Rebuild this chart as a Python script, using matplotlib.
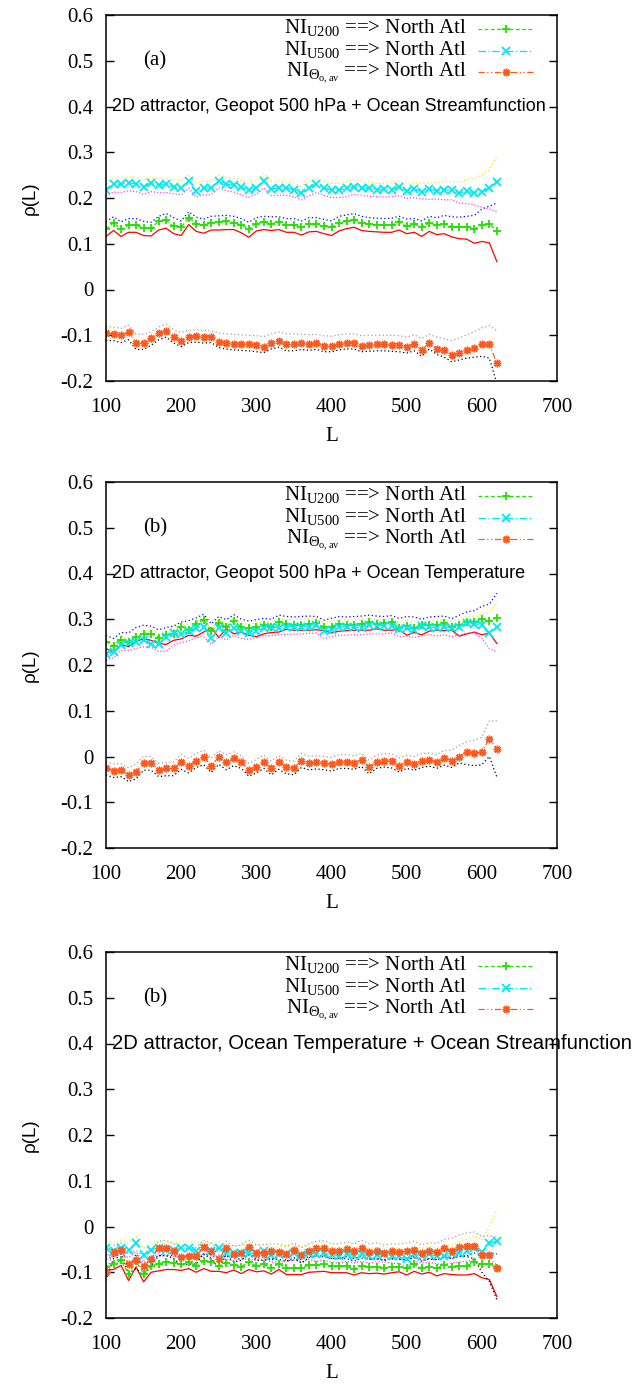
import numpy as np
import matplotlib
matplotlib.use('Agg')
import matplotlib.pyplot as plt
from matplotlib.ticker import FuncFormatter

plt.rcParams['axes.unicode_minus'] = False
plt.rcParams['mathtext.fontset'] = 'custom'
plt.rcParams['mathtext.rm'] = 'Liberation Serif'
plt.rcParams['mathtext.it'] = 'Liberation Serif:italic'

SERIF = ['Liberation Serif', 'DejaVu Serif']
SANS = ['Liberation Sans', 'DejaVu Sans']

L = np.arange(100, 621, 10)

TITLES = ['2D attractor, Geopot 500 hPa + Ocean Streamfunction',
          '2D attractor, Geopot 500 hPa + Ocean Temperature',
          '2D attractor, Ocean Temperature + Ocean Streamfunction']
PANEL_TAGS = ['(a)', '(b)', '(b)']
LEGEND_LABELS = [r'NI$_{\rm U200}$ ==> North Atl',
                 r'NI$_{\rm U500}$ ==> North Atl',
                 r'NI$_{\Theta_{\rm o,av}}$ ==> North Atl']

# ---------------- panel (a) ----------------
a_u200 = [0.132, 0.146, 0.132, 0.141, 0.141, 0.134, 0.134, 0.149, 0.151, 0.138, 0.136, 0.157, 0.144, 0.140,
          0.146, 0.147, 0.149, 0.146, 0.141, 0.132, 0.144, 0.147, 0.144, 0.147, 0.141, 0.141, 0.136, 0.143,
          0.143, 0.138, 0.136, 0.146, 0.149, 0.153, 0.146, 0.143, 0.141, 0.141, 0.141, 0.147, 0.138, 0.143,
          0.136, 0.146, 0.140, 0.144, 0.137, 0.136, 0.137, 0.133, 0.141, 0.143, 0.127]
a_u200_lo = [0.116, 0.129, 0.116, 0.125, 0.125, 0.118, 0.117, 0.130, 0.134, 0.122, 0.118, 0.142, 0.127, 0.123,
             0.130, 0.130, 0.131, 0.131, 0.124, 0.114, 0.128, 0.131, 0.129, 0.131, 0.125, 0.125, 0.119, 0.126,
             0.127, 0.122, 0.118, 0.128, 0.133, 0.136, 0.129, 0.127, 0.126, 0.125, 0.125, 0.130, 0.122, 0.125,
             0.116, 0.127, 0.120, 0.122, 0.115, 0.111, 0.110, 0.101, 0.105, 0.102, 0.061]
a_u200_hi = [0.148, 0.159, 0.148, 0.155, 0.155, 0.149, 0.147, 0.160, 0.166, 0.157, 0.150, 0.170, 0.158, 0.154,
             0.160, 0.161, 0.162, 0.160, 0.155, 0.147, 0.157, 0.160, 0.159, 0.159, 0.155, 0.155, 0.150, 0.157,
             0.157, 0.153, 0.150, 0.160, 0.163, 0.166, 0.160, 0.157, 0.156, 0.155, 0.156, 0.160, 0.154, 0.155,
             0.150, 0.160, 0.157, 0.162, 0.159, 0.158, 0.160, 0.162, 0.176, 0.182, 0.189]
a_u500 = [0.217, 0.231, 0.230, 0.233, 0.231, 0.224, 0.233, 0.228, 0.230, 0.224, 0.222, 0.238, 0.215, 0.222,
          0.221, 0.238, 0.230, 0.228, 0.224, 0.217, 0.222, 0.238, 0.220, 0.222, 0.222, 0.218, 0.211, 0.222,
          0.230, 0.222, 0.217, 0.217, 0.221, 0.225, 0.222, 0.221, 0.217, 0.220, 0.218, 0.224, 0.215, 0.220,
          0.214, 0.220, 0.215, 0.218, 0.217, 0.211, 0.215, 0.211, 0.214, 0.221, 0.236]
a_u500_hi = [0.230, 0.244, 0.243, 0.246, 0.245, 0.240, 0.244, 0.242, 0.242, 0.240, 0.238, 0.250, 0.232, 0.236,
             0.236, 0.250, 0.245, 0.243, 0.238, 0.232, 0.238, 0.254, 0.237, 0.236, 0.235, 0.232, 0.226, 0.236,
             0.242, 0.236, 0.232, 0.232, 0.236, 0.240, 0.236, 0.235, 0.232, 0.232, 0.234, 0.236, 0.230, 0.234,
             0.232, 0.233, 0.234, 0.236, 0.236, 0.235, 0.240, 0.243, 0.250, 0.262, 0.292]
a_u500_lo = [0.205, 0.213, 0.212, 0.216, 0.214, 0.208, 0.214, 0.212, 0.212, 0.209, 0.207, 0.222, 0.202, 0.207,
             0.207, 0.222, 0.216, 0.213, 0.207, 0.202, 0.208, 0.222, 0.205, 0.206, 0.206, 0.202, 0.196, 0.205,
             0.212, 0.206, 0.201, 0.201, 0.203, 0.208, 0.206, 0.204, 0.203, 0.202, 0.203, 0.205, 0.199, 0.201,
             0.198, 0.197, 0.198, 0.196, 0.196, 0.189, 0.188, 0.185, 0.180, 0.176, 0.170]
a_theta = [-0.096, -0.097, -0.100, -0.093, -0.116, -0.116, -0.107, -0.096, -0.090, -0.104, -0.112, -0.103, -0.101,
           -0.104, -0.103, -0.114, -0.116, -0.119, -0.119, -0.119, -0.122, -0.125, -0.116, -0.112, -0.120, -0.120,
           -0.117, -0.120, -0.117, -0.123, -0.123, -0.119, -0.116, -0.117, -0.123, -0.122, -0.120, -0.120, -0.122,
           -0.122, -0.126, -0.120, -0.132, -0.117, -0.129, -0.133, -0.143, -0.139, -0.132, -0.128, -0.120, -0.120,
           -0.161]
a_theta_hi = [-0.081, -0.082, -0.085, -0.078, -0.098, -0.098, -0.093, -0.082, -0.076, -0.088, -0.094, -0.089,
              -0.088, -0.090, -0.090, -0.095, -0.097, -0.098, -0.099, -0.100, -0.101, -0.103, -0.097, -0.093,
              -0.097, -0.097, -0.098, -0.099, -0.098, -0.101, -0.102, -0.099, -0.097, -0.097, -0.101, -0.100,
              -0.100, -0.100, -0.100, -0.101, -0.104, -0.099, -0.107, -0.098, -0.104, -0.108, -0.112, -0.106,
              -0.099, -0.092, -0.084, -0.079, -0.090]
a_theta_lo = [-0.111, -0.112, -0.116, -0.110, -0.131, -0.131, -0.122, -0.110, -0.104, -0.117, -0.125, -0.116,
              -0.115, -0.117, -0.116, -0.127, -0.130, -0.132, -0.133, -0.134, -0.136, -0.138, -0.130, -0.126,
              -0.134, -0.134, -0.131, -0.133, -0.131, -0.136, -0.136, -0.132, -0.130, -0.130, -0.136, -0.135,
              -0.134, -0.134, -0.135, -0.136, -0.139, -0.134, -0.146, -0.130, -0.142, -0.148, -0.158, -0.154,
              -0.150, -0.148, -0.146, -0.150, -0.205]

# ---------------- panel (b) ----------------
b_u200 = [0.251, 0.242, 0.254, 0.251, 0.262, 0.268, 0.268, 0.260, 0.265, 0.268, 0.283, 0.277, 0.290, 0.299,
          0.274, 0.291, 0.284, 0.296, 0.283, 0.280, 0.284, 0.288, 0.284, 0.294, 0.290, 0.287, 0.288, 0.290,
          0.291, 0.283, 0.284, 0.290, 0.288, 0.288, 0.290, 0.293, 0.290, 0.291, 0.293, 0.280, 0.286, 0.281,
          0.288, 0.288, 0.288, 0.291, 0.283, 0.288, 0.294, 0.293, 0.301, 0.297, 0.303]
b_u200_lo = [0.236, 0.228, 0.244, 0.240, 0.252, 0.257, 0.254, 0.247, 0.245, 0.254, 0.257, 0.265, 0.263, 0.272,
             0.282, 0.260, 0.280, 0.268, 0.272, 0.265, 0.262, 0.268, 0.271, 0.272, 0.278, 0.276, 0.276, 0.276,
             0.277, 0.275, 0.270, 0.274, 0.275, 0.276, 0.276, 0.276, 0.279, 0.276, 0.276, 0.278, 0.265, 0.271,
             0.266, 0.274, 0.276, 0.275, 0.276, 0.263, 0.268, 0.272, 0.266, 0.270, 0.247]
b_u200_hi = [0.265, 0.258, 0.271, 0.270, 0.282, 0.287, 0.285, 0.277, 0.282, 0.285, 0.294, 0.297, 0.303, 0.311,
             0.290, 0.306, 0.299, 0.310, 0.300, 0.296, 0.299, 0.302, 0.300, 0.309, 0.306, 0.305, 0.306, 0.307,
             0.306, 0.298, 0.302, 0.306, 0.305, 0.306, 0.307, 0.309, 0.307, 0.306, 0.308, 0.302, 0.306, 0.305,
             0.300, 0.305, 0.306, 0.307, 0.301, 0.309, 0.316, 0.319, 0.328, 0.333, 0.357]
b_u500 = [0.225, 0.229, 0.244, 0.248, 0.251, 0.254, 0.245, 0.245, 0.262, 0.270, 0.267, 0.274, 0.281, 0.284,
          0.258, 0.280, 0.270, 0.281, 0.274, 0.271, 0.274, 0.281, 0.283, 0.281, 0.284, 0.284, 0.283, 0.284,
          0.288, 0.274, 0.277, 0.283, 0.283, 0.283, 0.281, 0.287, 0.286, 0.286, 0.286, 0.278, 0.281, 0.277,
          0.286, 0.284, 0.280, 0.283, 0.281, 0.284, 0.291, 0.290, 0.288, 0.271, 0.283]
b_u500_hi = [0.247, 0.250, 0.258, 0.260, 0.272, 0.275, 0.278, 0.270, 0.275, 0.278, 0.286, 0.290, 0.295, 0.304,
             0.280, 0.300, 0.290, 0.303, 0.292, 0.289, 0.292, 0.294, 0.294, 0.302, 0.300, 0.299, 0.300, 0.301,
             0.300, 0.292, 0.296, 0.300, 0.298, 0.299, 0.300, 0.301, 0.300, 0.299, 0.301, 0.294, 0.298, 0.295,
             0.293, 0.298, 0.298, 0.299, 0.294, 0.300, 0.306, 0.305, 0.312, 0.315, 0.338]
b_u500_lo = [0.210, 0.216, 0.232, 0.232, 0.236, 0.240, 0.239, 0.230, 0.230, 0.244, 0.249, 0.253, 0.260, 0.262,
             0.245, 0.263, 0.255, 0.265, 0.258, 0.256, 0.260, 0.264, 0.264, 0.266, 0.267, 0.267, 0.268, 0.269,
             0.270, 0.258, 0.262, 0.265, 0.265, 0.266, 0.266, 0.268, 0.268, 0.268, 0.270, 0.262, 0.263, 0.260,
             0.264, 0.266, 0.264, 0.266, 0.262, 0.266, 0.270, 0.270, 0.258, 0.236, 0.228]
b_theta = [-0.025, -0.032, -0.029, -0.041, -0.033, -0.014, -0.014, -0.029, -0.026, -0.026, -0.012, -0.020, -0.010,
           -0.001, -0.020, -0.001, -0.013, -0.004, -0.012, -0.030, -0.022, -0.012, -0.026, -0.013, -0.023, -0.025,
           -0.009, -0.014, -0.013, -0.014, -0.017, -0.012, -0.012, -0.014, -0.007, -0.023, -0.012, -0.009, -0.010,
           -0.020, -0.013, -0.016, -0.010, -0.007, -0.012, -0.004, -0.009, 0.000, 0.010, 0.007, 0.010, 0.039,
           0.017]
b_theta_hi = [-0.012, -0.016, -0.016, -0.025, -0.016, 0.000, 0.000, -0.015, -0.013, -0.012, 0.005, -0.004, 0.006,
              0.014, -0.004, 0.013, 0.004, 0.010, 0.001, -0.015, -0.007, 0.003, -0.010, 0.002, -0.008, -0.010,
              0.007, 0.001, 0.001, 0.000, -0.002, 0.004, 0.004, 0.001, 0.007, -0.008, 0.003, 0.006, 0.006, -0.003,
              0.002, 0.000, 0.006, 0.008, 0.004, 0.013, 0.014, 0.024, 0.032, 0.036, 0.042, 0.078, 0.078]
b_theta_lo = [-0.040, -0.046, -0.044, -0.055, -0.049, -0.030, -0.030, -0.044, -0.042, -0.042, -0.028, -0.036,
              -0.024, -0.018, -0.035, -0.017, -0.029, -0.020, -0.026, -0.043, -0.036, -0.026, -0.040, -0.028,
              -0.038, -0.040, -0.024, -0.029, -0.027, -0.029, -0.032, -0.026, -0.026, -0.028, -0.022, -0.038,
              -0.026, -0.023, -0.025, -0.034, -0.026, -0.030, -0.024, -0.021, -0.026, -0.019, -0.024, -0.014,
              -0.018, -0.020, -0.018, 0.000, -0.045]

# ---------------- panel (c) ----------------
c_u200 = [-0.088, -0.083, -0.074, -0.104, -0.076, -0.103, -0.086, -0.081, -0.078, -0.080, -0.083, -0.078, -0.087,
          -0.076, -0.077, -0.086, -0.080, -0.084, -0.088, -0.077, -0.087, -0.083, -0.091, -0.081, -0.091, -0.091,
          -0.091, -0.084, -0.084, -0.083, -0.087, -0.087, -0.087, -0.093, -0.086, -0.088, -0.088, -0.091, -0.088,
          -0.088, -0.091, -0.083, -0.091, -0.088, -0.091, -0.084, -0.088, -0.086, -0.086, -0.077, -0.083, -0.081,
          -0.091]
c_u200_lo = [-0.096, -0.094, -0.085, -0.118, -0.088, -0.121, -0.100, -0.097, -0.094, -0.094, -0.096, -0.092,
             -0.100, -0.092, -0.098, -0.098, -0.101, -0.095, -0.103, -0.094, -0.099, -0.097, -0.104, -0.094,
             -0.105, -0.105, -0.105, -0.100, -0.099, -0.098, -0.101, -0.101, -0.101, -0.106, -0.101, -0.103,
             -0.102, -0.104, -0.101, -0.099, -0.106, -0.098, -0.104, -0.100, -0.108, -0.103, -0.105, -0.106,
             -0.106, -0.103, -0.112, -0.116, -0.153]
c_u200_hi = [-0.072, -0.066, -0.060, -0.090, -0.060, -0.088, -0.070, -0.064, -0.062, -0.064, -0.066, -0.062,
             -0.070, -0.060, -0.062, -0.070, -0.064, -0.068, -0.072, -0.062, -0.070, -0.066, -0.074, -0.064,
             -0.074, -0.074, -0.072, -0.066, -0.066, -0.066, -0.070, -0.070, -0.070, -0.076, -0.069, -0.071,
             -0.071, -0.073, -0.071, -0.071, -0.074, -0.066, -0.074, -0.071, -0.073, -0.066, -0.070, -0.066,
             -0.064, -0.058, -0.062, -0.058, -0.060]
c_u500 = [-0.047, -0.053, -0.047, -0.051, -0.037, -0.063, -0.051, -0.047, -0.051, -0.051, -0.048, -0.048, -0.053,
          -0.047, -0.053, -0.047, -0.057, -0.058, -0.057, -0.057, -0.058, -0.054, -0.063, -0.060, -0.061, -0.057,
          -0.063, -0.057, -0.060, -0.058, -0.063, -0.064, -0.060, -0.064, -0.060, -0.064, -0.063, -0.061, -0.064,
          -0.065, -0.070, -0.060, -0.064, -0.061, -0.065, -0.064, -0.060, -0.058, -0.053, -0.047, -0.055, -0.037,
          -0.031]
c_u500_hi = [-0.032, -0.037, -0.030, -0.036, -0.022, -0.048, -0.036, -0.032, -0.036, -0.036, -0.033, -0.033,
             -0.038, -0.032, -0.038, -0.032, -0.042, -0.042, -0.041, -0.041, -0.042, -0.038, -0.046, -0.044,
             -0.044, -0.040, -0.046, -0.040, -0.044, -0.042, -0.046, -0.047, -0.043, -0.047, -0.043, -0.047,
             -0.046, -0.044, -0.047, -0.048, -0.052, -0.044, -0.048, -0.044, -0.048, -0.046, -0.040, -0.034,
             -0.028, -0.020, -0.030, 0.000, 0.035]
c_u500_lo = [-0.062, -0.066, -0.060, -0.068, -0.056, -0.078, -0.066, -0.060, -0.064, -0.066, -0.064, -0.064,
             -0.068, -0.062, -0.068, -0.062, -0.072, -0.074, -0.072, -0.072, -0.074, -0.070, -0.078, -0.076,
             -0.078, -0.072, -0.078, -0.072, -0.076, -0.074, -0.078, -0.080, -0.076, -0.080, -0.076, -0.080,
             -0.078, -0.077, -0.080, -0.081, -0.088, -0.076, -0.080, -0.078, -0.082, -0.082, -0.080, -0.078,
             -0.076, -0.072, -0.090, -0.080, -0.082]
c_theta = [-0.100, -0.055, -0.051, -0.081, -0.073, -0.087, -0.070, -0.048, -0.048, -0.054, -0.067, -0.064, -0.064,
           -0.044, -0.053, -0.071, -0.047, -0.061, -0.057, -0.045, -0.057, -0.057, -0.054, -0.055, -0.060, -0.051,
           -0.063, -0.053, -0.048, -0.048, -0.054, -0.054, -0.050, -0.054, -0.047, -0.055, -0.053, -0.057, -0.054,
           -0.055, -0.054, -0.051, -0.058, -0.054, -0.055, -0.048, -0.053, -0.044, -0.042, -0.042, -0.063, -0.063,
           -0.091]
c_theta_hi = [-0.070, -0.042, -0.036, -0.060, -0.052, -0.068, -0.054, -0.032, -0.030, -0.038, -0.048, -0.046,
              -0.046, -0.030, -0.036, -0.052, -0.032, -0.044, -0.040, -0.030, -0.040, -0.040, -0.038, -0.038,
              -0.043, -0.036, -0.046, -0.038, -0.032, -0.031, -0.038, -0.038, -0.034, -0.038, -0.030, -0.038,
              -0.036, -0.040, -0.038, -0.038, -0.036, -0.032, -0.040, -0.036, -0.037, -0.028, -0.026, -0.018,
              -0.014, -0.012, -0.022, -0.020, -0.024]
c_theta_lo = [-0.118, -0.070, -0.066, -0.102, -0.092, -0.108, -0.086, -0.064, -0.064, -0.070, -0.084, -0.082,
              -0.082, -0.060, -0.070, -0.090, -0.062, -0.078, -0.074, -0.060, -0.074, -0.074, -0.070, -0.072,
              -0.076, -0.068, -0.080, -0.068, -0.064, -0.064, -0.070, -0.070, -0.066, -0.070, -0.064, -0.072,
              -0.070, -0.074, -0.070, -0.072, -0.072, -0.068, -0.076, -0.070, -0.072, -0.066, -0.070, -0.062,
              -0.066, -0.070, -0.100, -0.120, -0.160]

PANELS = [
    (a_u200, a_u200_lo, a_u200_hi, a_u500, a_u500_lo, a_u500_hi, a_theta, a_theta_lo, a_theta_hi),
    (b_u200, b_u200_lo, b_u200_hi, b_u500, b_u500_lo, b_u500_hi, b_theta, b_theta_lo, b_theta_hi),
    (c_u200, c_u200_lo, c_u200_hi, c_u500, c_u500_lo, c_u500_hi, c_theta, c_theta_lo, c_theta_hi),
]

GREEN = '#22e000'
CYAN = '#00e8f0'
ORANGE = '#ff5a1e'
ASTER = (8, 2, 0)

main_styles = [
    dict(color=GREEN, marker='+', ms=6, mew=1.3, dashes=(3, 2)),
    dict(color=CYAN, marker='x', ms=5.5, mew=1.3, dashes=(6, 2, 1, 2)),
    dict(color=ORANGE, marker=ASTER, ms=5.5, mew=1.1, dashes=(5, 2, 1, 2, 1, 2)),
]
TITLE_SIZES = [13, 13, 14.6]

fig = plt.figure(figsize=(6.38, 13.89), dpi=100)
tops = [15, 482, 952]
H = 366
for p, (u200, u200_lo, u200_hi, u500, u500_lo, u500_hi, th, th_lo, th_hi) in enumerate(PANELS):
    top = tops[p]
    ax = fig.add_axes([106 / 638, 1 - (top + H) / 1389, 451 / 638, H / 1389])

    # confidence bands
    ax.plot(L, u200_lo, color='#ff0000', lw=0.9)
    ax.plot(L, u200_hi, color='#0000ff', lw=0.9, dashes=(1, 2))
    ax.plot(L, u500_hi, color='#f0f000', lw=0.9, dashes=(1, 2))
    ax.plot(L, u500_lo, color='#ff40ff', lw=0.9, dashes=(1, 1.5))
    ax.plot(L, th_hi, color='#a0a0a0', lw=0.9, dashes=(1, 2))
    ax.plot(L, th_lo, color='#000000', lw=0.9, dashes=(1, 2))

    for vals, st in zip([u200, u500, th], main_styles):
        ax.plot(L, vals, lw=0.9, **st)

    # legend (gnuplot-like key)
    row_line = [0.962, 0.902, 0.844]
    row_text = [0.951, 0.891, 0.833]
    for i, st in enumerate(main_styles):
        ax.text(0.800, row_text[i], LEGEND_LABELS[i], transform=ax.transAxes, ha='right', va='baseline',
                fontsize=15, family=SERIF)
        ax.plot([0.825, 0.947], [row_line[i]] * 2, transform=ax.transAxes, lw=0.9,
                color=st['color'], dashes=st['dashes'])
        ax.plot([0.886], [row_line[i]], transform=ax.transAxes, color=st['color'], marker=st['marker'],
                ms=st['ms'], mew=st['mew'], ls='none')

    ax.text(150, 0.5, PANEL_TAGS[p], ha='left', va='center', fontsize=15, family=SERIF)
    ax.text(108, 0.4, TITLES[p], ha='left', va='center', fontsize=TITLE_SIZES[p], family=SANS,
            clip_on=False)

    ax.set_xlim(100, 700)
    ax.set_ylim(-0.2, 0.6)
    ax.set_xticks(np.arange(100, 701, 100))
    ax.set_yticks(np.arange(-0.2, 0.61, 0.1))
    ax.yaxis.set_major_formatter(FuncFormatter(lambda v, pos: '%g' % round(v, 2)))
    ax.tick_params(axis='y', direction='in', length=6, width=1, right=True, pad=9, labelsize=15)
    ax.tick_params(axis='x', length=0, pad=12, labelsize=15)
    for lab in ax.get_xticklabels() + ax.get_yticklabels():
        lab.set_family(SERIF)
    for s in ax.spines.values():
        s.set_linewidth(1.1)

    ax.set_xlabel('L', fontsize=15, family=SERIF)
    ax.xaxis.set_label_coords(0.5, -0.153)
    ax.xaxis.label.set_va('center')
    ax.set_ylabel('ρ(L)', fontsize=13.5, family=SANS)
    ax.yaxis.set_label_coords(-0.1685, 0.5)
    ax.yaxis.label.set_va('center')

fig.savefig('out.png', dpi=100)
